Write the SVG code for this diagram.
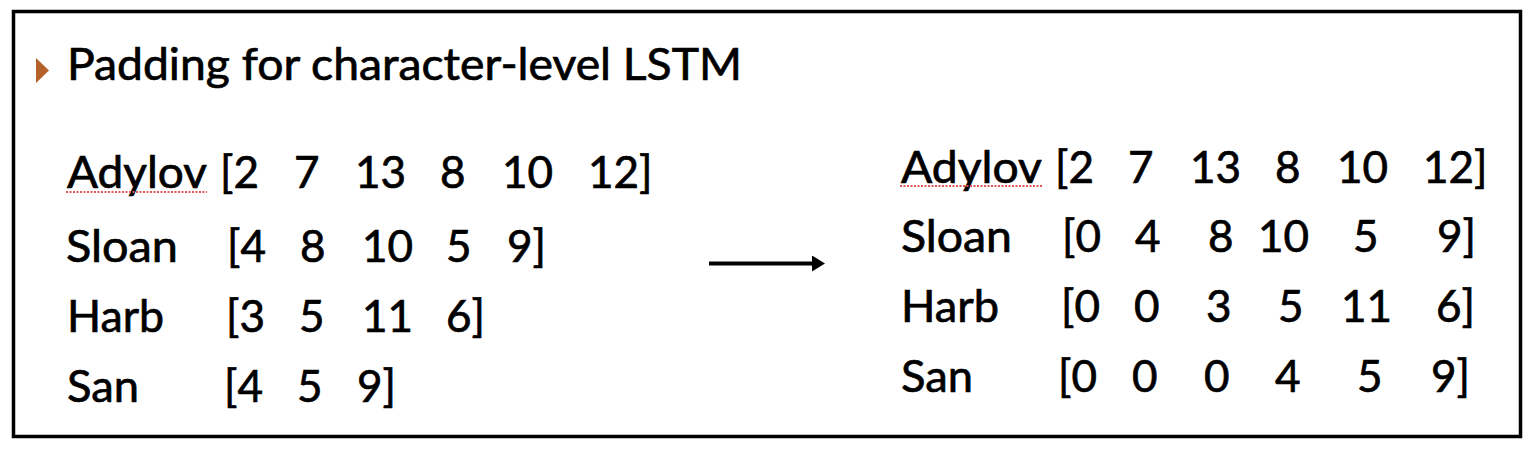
<svg xmlns="http://www.w3.org/2000/svg" width="1536" height="452" viewBox="0 0 1536 452">
  <style>
    text { font-family: Lato, "Open Sans", "Liberation Sans", sans-serif; font-size: 44px; fill: #000; stroke: #000; stroke-width: 0.7; }
    .sq { stroke: #e05555; stroke-width: 2; stroke-dasharray: 2 1.5; fill: none; }
  </style>
  <defs>
    <marker id="ah" viewBox="0 0 13 16" refX="0" refY="8" markerWidth="13" markerHeight="16" orient="auto" markerUnits="userSpaceOnUse">
      <path d="M0,0 L13,8 L0,16 Z" fill="#000"/>
    </marker>
  </defs>
  <rect x="0" y="0" width="1536" height="452" fill="#fff"/>
  <rect x="13.5" y="11.5" width="1507" height="425" fill="none" stroke="#000" stroke-width="3.5"/>

  <g id="title">
    <path d="M36,58 L49,70.5 L36,83 Z" fill="#b4622a"/>
    <text x="67" y="80" textLength="675" lengthAdjust="spacingAndGlyphs">Padding for character-level LSTM</text>
  </g>

  <g id="left-list">
    <text x="67" y="188" textLength="140" lengthAdjust="spacingAndGlyphs">Adylov</text>
    <line class="sq" x1="66" y1="192" x2="207" y2="192"/>
    <text x="220" y="188">[2</text>
    <text x="294" y="188">7</text>
    <text x="355" y="188">13</text>
    <text x="440" y="188">8</text>
    <text x="502" y="188">10</text>
    <text x="588" y="188">12]</text>

    <text x="66" y="262" textLength="112" lengthAdjust="spacingAndGlyphs">Sloan</text>
    <text x="227" y="262">[4</text>
    <text x="300" y="262">8</text>
    <text x="362" y="262">10</text>
    <text x="446" y="262">5</text>
    <text x="507" y="262">9]</text>

    <text x="67" y="332" textLength="97" lengthAdjust="spacingAndGlyphs">Harb</text>
    <text x="226" y="332">[3</text>
    <text x="299" y="332">5</text>
    <text x="362" y="332">11</text>
    <text x="446" y="332">6]</text>

    <text x="67" y="402" textLength="72" lengthAdjust="spacingAndGlyphs">San</text>
    <text x="224" y="402">[4</text>
    <text x="297" y="402">5</text>
    <text x="357" y="402">9]</text>
  </g>

  <g id="connectors">
    <line x1="709" y1="263.5" x2="812" y2="263.5" stroke="#000" stroke-width="4" marker-end="url(#ah)"/>
  </g>

  <g id="right-list">
    <text x="901" y="183" textLength="141" lengthAdjust="spacingAndGlyphs">Adylov</text>
    <line class="sq" x1="900" y1="186" x2="1043" y2="186"/>
    <text x="1055" y="183">[2</text>
    <text x="1128" y="183">7</text>
    <text x="1190" y="183">13</text>
    <text x="1275" y="183">8</text>
    <text x="1337" y="183">10</text>
    <text x="1423" y="183">12]</text>

    <text x="901" y="252" textLength="111" lengthAdjust="spacingAndGlyphs">Sloan</text>
    <text x="1062" y="252">[0</text>
    <text x="1135" y="252">4</text>
    <text x="1208" y="252">8</text>
    <text x="1258" y="252">10</text>
    <text x="1353" y="252">5</text>
    <text x="1437" y="252">9]</text>

    <text x="901" y="322" textLength="98" lengthAdjust="spacingAndGlyphs">Harb</text>
    <text x="1061" y="322">[0</text>
    <text x="1134" y="322">0</text>
    <text x="1206" y="322">3</text>
    <text x="1278" y="322">5</text>
    <text x="1341" y="322">11</text>
    <text x="1436" y="322">6]</text>

    <text x="901" y="392" textLength="72" lengthAdjust="spacingAndGlyphs">San</text>
    <text x="1058" y="392">[0</text>
    <text x="1132" y="392">0</text>
    <text x="1204" y="392">0</text>
    <text x="1275" y="392">4</text>
    <text x="1357" y="392">5</text>
    <text x="1431" y="392">9]</text>
  </g>
</svg>
